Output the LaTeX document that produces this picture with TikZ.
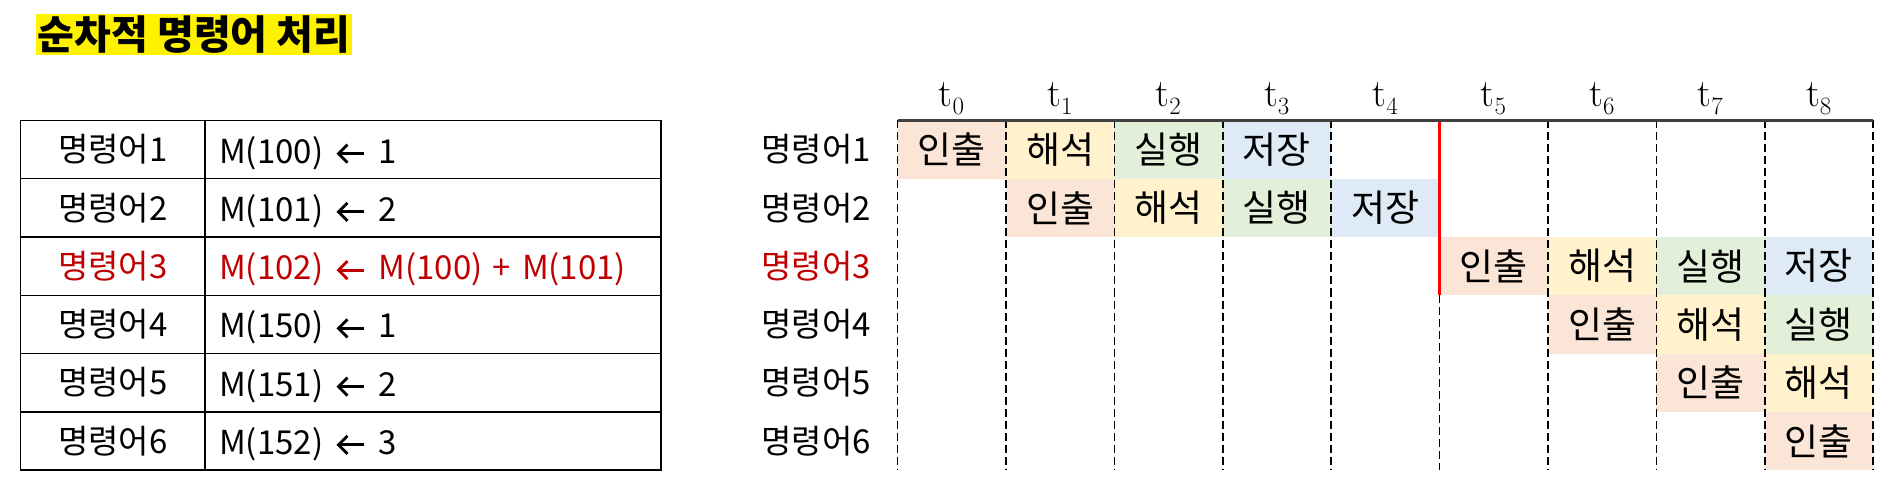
\documentclass[tikz,border=0pt]{standalone}
\usepackage{fontspec}
\newfontfamily\kr{Noto Sans CJK KR}
\definecolor{cInch}{HTML}{FBE5D6}
\definecolor{cHae}{HTML}{FFF2CC}
\definecolor{cSil}{HTML}{E2F0D9}
\definecolor{cJeo}{HTML}{DEEBF7}
\definecolor{redtxt}{HTML}{C00000}
\definecolor{linegray}{HTML}{404040}
\tikzset{
  tcell/.style={draw=black, line width=1.5pt, rectangle, inner sep=0pt, minimum height=58.25pt},
  tlabel/.style={font=\kr\fontsize{33}{35}\selectfont, inner sep=0pt},
  assignarrow/.style={line width=2.8pt, line join=miter},
  stagebox/.style={rectangle, inner sep=0pt, minimum width=108.4pt, minimum height=58.25pt, font=\kr\fontsize{37}{39}\selectfont},
  gridline/.style={line width=1.6pt, dash pattern=on 8pt off 4pt, black},
  tickhead/.style={anchor=base, inner sep=0pt, font=\fontsize{39}{41}\selectfont}
}
\begin{document}
\begin{tikzpicture}[x=1pt,y=-1pt]
\useasboundingbox (0,0) rectangle (1889,486);
% title
\node[fill=yellow, minimum width=316pt, minimum height=41pt, inner sep=0pt,
      font=\kr\bfseries\fontsize{40}{42}\selectfont] (title) at (194,35) {순차적 명령어 처리};
% table
\foreach \i/\lt/\rt/\col in {1/{M(100)}/{1}/black, 2/{M(101)}/{2}/black,
  3/{M(102)}/{M(100)\hspace{10pt}+\hspace{11pt}M(101)}/redtxt, 4/{M(150)}/{1}/black,
  5/{M(151)}/{2}/black, 6/{M(152)}/{3}/black}{
  \pgfmathsetmacro\yc{120.5+58.25*(\i-0.5)}
  \node[tcell, minimum width=184.5pt] (a\i) at (112.75,\yc) {};
  \node[tcell, minimum width=456pt] (b\i) at (433,\yc) {};
  \node[tlabel, text=\col] (al\i) at (a\i.center) {명령어\i};
  \node[tlabel, text=\col, anchor=base west] (bl\i) at (219,\yc+13.5) {\lt};
  \coordinate (ah\i) at ([xshift=15pt,yshift=9.5pt]bl\i.base east);
  \coordinate (ae\i) at ([xshift=26pt]ah\i);
  \node[tlabel, text=\col, anchor=base west] (br\i) at ([xshift=14pt,yshift=-9.5pt]ae\i) {\rt};
  \draw[assignarrow, draw=\col] (ae\i) -- (ah\i);
  \draw[assignarrow, draw=\col] ([xshift=9pt,yshift=9pt]ah\i) -- (ah\i) -- ([xshift=9pt,yshift=-9pt]ah\i);
}
% chart stages
\foreach \r/\st in {1/0,2/1,3/5,4/6,5/7,6/8}{
  \foreach \k/\nm/\cl in {0/인출/cInch,1/해석/cHae,2/실행/cSil,3/저장/cJeo}{
    \pgfmathtruncatemacro\c{\st+\k}
    \ifnum\c<9
      \node[stagebox, fill=\cl] (s\r-\c) at ({897.5+108.4*(\c+0.5)},{120.5+58.25*(\r-0.5)}) {\nm};
    \fi
  }
}
% row labels
\foreach \r/\col in {1/black,2/black,3/redtxt,4/black,5/black,6/black}{
  \node[tlabel, text=\col, anchor=east] (rl\r) at (871,{120.5+58.25*(\r-0.5)}) {명령어\r};
}
% headers and grid
\foreach \k in {0,...,8}{
  \node[tickhead] (t\k) at ({897.5+108.4*(\k+0.5)},107) {$\mathrm{t}_{\k}$};
}
\foreach \k in {0,...,9}{
  \coordinate (gt\k) at ({897.5+108.4*\k},120.5);
  \coordinate (gb\k) at ({897.5+108.4*\k},470);
}
\foreach \k in {0,1,2,3,4,6,7,8,9}{
  \draw[gridline] (gt\k) -- (gb\k);
}
\coordinate (rm) at ({897.5+108.4*5},295.25);
\draw[gridline] (rm) -- (gb5);
\draw[red, line width=2.5pt] (gt5) -- (rm);
\draw[linegray, line width=2.5pt] (gt0) -- (gt9);
\end{tikzpicture}
\end{document}
